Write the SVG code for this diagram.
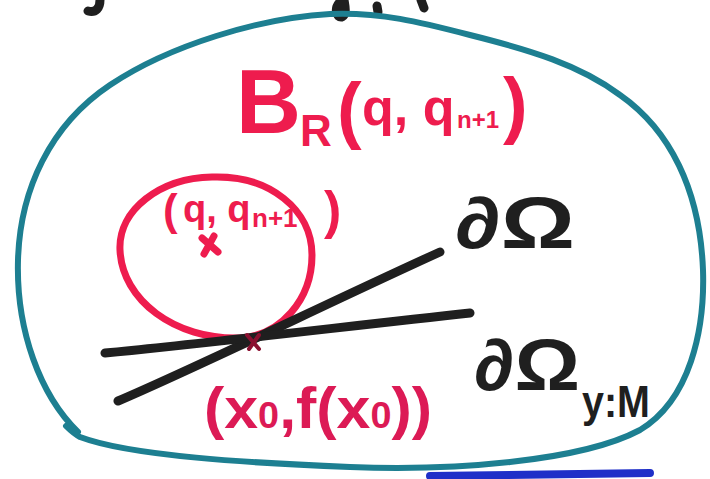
<svg xmlns="http://www.w3.org/2000/svg" width="710" height="479" viewBox="0 0 710 479">
<style>
.teal{fill:none;stroke:#1d7f91;stroke-width:6;stroke-linecap:round;stroke-linejoin:round}
.ink{fill:none;stroke:#1f1f1f;stroke-width:9;stroke-linecap:round;stroke-linejoin:round}
.red{fill:none;stroke:#ee1c4e;stroke-width:7;stroke-linecap:round;stroke-linejoin:round}
.rt{fill:#ee1c4e;font-family:"Liberation Sans",sans-serif;font-weight:bold}
.rt2{fill:#dc1a55;font-family:"Liberation Sans",sans-serif;font-weight:bold}
.bt{fill:#1f1f1f;font-family:"Liberation Sans",sans-serif;font-weight:bold}
</style>
<rect width="710" height="479" fill="#ffffff"/>
<g id="fragments">
<path class="ink" d="M100,0 C100,8 96,13 88,11" stroke-width="7"/>
<path class="ink" d="M340,2 C334,8 336,18 342,17 C347,14 345,6 344,0" stroke-width="7"/>
<path class="ink" d="M377,6 L378,12" stroke-width="6"/>
<path class="ink" d="M421,0 L424,8" stroke-width="5"/>
</g>
<g id="region">
<path class="teal" d="M66,426 C72,432 74,434 80,437 C130,456 250,463 350,467 C450,471 580,462 640,430 C690,400 705,330 703,270 C700,190 670,130 620,95 C580,65 530,50 470,35 C420,22 380,12 330,14 C260,18 170,45 110,85 C50,125 20,190 18,260 C16,330 40,395 78,432"/>
<path d="M430,476 L650,473" fill="none" stroke="#1f2fc8" stroke-width="8" stroke-linecap="round"/>
</g>
<g id="ball-label">
<text class="rt" x="236" y="133" font-size="90">B</text>
<text class="rt" x="300" y="146" font-size="44">R</text>
<text class="rt" x="337" y="135" font-size="74">(</text>
<text class="rt" x="362" y="125" font-size="52">q, q</text>
<text class="rt" x="457" y="128" font-size="24">n+1</text>
<text class="rt" x="503" y="130" font-size="74">)</text>
</g>
<g id="small-ball">
<path class="red" d="M212,177 C270,175 312,210 312,255 C312,300 280,336 240,338 C175,340 122,300 120,250 C118,210 160,178 212,177 Z"/>
<text class="rt" x="163" y="225" font-size="44">(</text>
<text class="rt" x="183" y="222" font-size="38">q, q</text>
<text class="rt" x="252" y="227" font-size="26">n+1</text>
<text class="rt" x="324" y="228" font-size="52">)</text>
<path class="red" d="M202,238 L218,252 M214,236 L204,254" stroke-width="6"/>
</g>
<g id="connectors">
<path class="ink" d="M118,401 C200,366 330,302 440,252"/>
<path class="ink" d="M105,353 C200,344 350,326 470,313"/>
<path d="M247,335 L259,349 M259,335 L249,349" fill="none" stroke="#8a1030" stroke-width="4" stroke-linecap="round"/>
</g>
<g id="boundary-label">
<text class="bt" x="455" y="248" font-size="72" textLength="120" lengthAdjust="spacingAndGlyphs">∂Ω</text>
</g>
<g id="boundary-m-label">
<text class="bt" x="474" y="390" font-size="72" textLength="106" lengthAdjust="spacingAndGlyphs">∂Ω</text>
<text class="bt" x="582" y="417" font-size="44" textLength="68" lengthAdjust="spacingAndGlyphs">y:M</text>
</g>
<g id="point-label">
<text class="rt2" x="204" y="428" font-size="58" textLength="228" lengthAdjust="spacingAndGlyphs">(x<tspan font-size="36">0</tspan>,f(x<tspan font-size="36">0</tspan>))</text>
</g>
</svg>
